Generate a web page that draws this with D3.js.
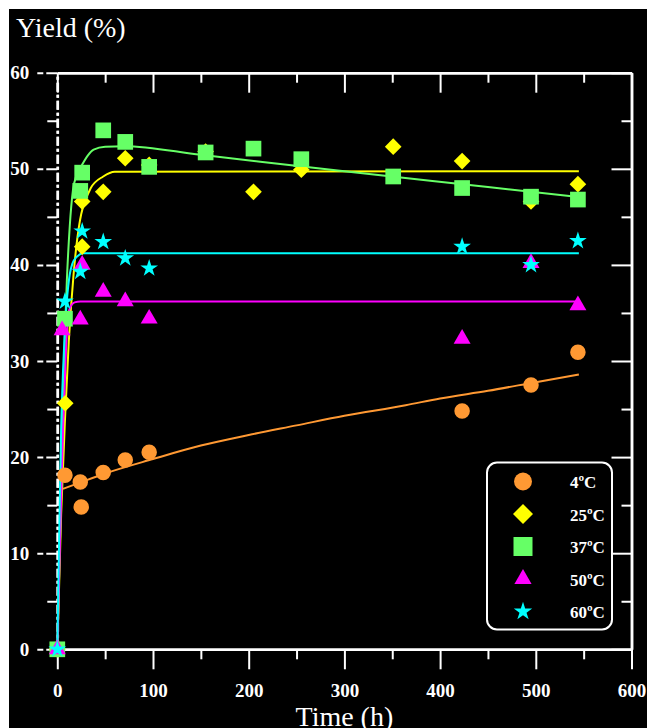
<!DOCTYPE html>
<html>
<head>
<meta charset="utf-8">
<script src="https://cdn.jsdelivr.net/npm/d3@7"></script>
<style>
body { margin: 0; background: #fff; }
svg { display: block; }
</style>
</head>
<body>
<div id="chart"></div>
<script>
// Data

var labels = ["4ºC", "25ºC", "37ºC", "50ºC", "60ºC"];
var colors = ["#ff9933", "#ffff00", "#66ff66", "#ff00ff", "#00ffff"];
var xTicks = [0, 100, 200, 300, 400, 500, 600];
var yTicks = [0, 10, 20, 30, 40, 50, 60];

// measured points
var t4  = [0, 8, 24, 25, 48, 71, 96, 423, 495, 544];
var y4  = [0, 18.1, 17.4, 14.8, 18.4, 19.7, 20.5, 24.8, 27.5, 30.9];
var t25 = [0, 8.3, 26, 26, 48, 71, 96, 155, 205, 255, 351, 423, 495, 544];
var y25 = [0, 25.6, 41.9, 46.6, 47.6, 51.1, 50.4, 51.8, 47.6, 49.9, 52.3, 50.8, 46.6, 48.4];
var t37 = [0, 8, 24, 26, 48, 71, 96, 155, 205, 255, 351, 423, 495, 544];
var y37 = [0, 34.4, 47.7, 49.6, 54.0, 52.8, 50.2, 51.7, 52.1, 51.0, 49.2, 48.0, 47.1, 46.8];
var t50 = [0, 5, 24, 26, 48, 71, 96, 423, 495, 544];
var y50 = [0, 33.2, 34.3, 40.0, 37.2, 36.2, 34.4, 32.3, 40.2, 35.8];
var t60 = [0, 8, 24, 26, 48, 71, 96, 423, 495, 544];
var y60 = [0, 36.2, 39.3, 43.5, 42.4, 40.7, 39.65, 41.9, 40.0, 42.5];

// fitted curves
var ft4  = [6, 25, 50, 100, 150, 200, 250, 300, 364, 400, 450, 500, 545];
var fy4  = [16.7, 17.4, 18.3, 19.8, 21.2, 22.3, 23.3, 24.3, 25.4, 26.1, 26.9, 27.8, 28.6];
var ft25 = [0, 4, 8.3, 12, 17, 20, 25, 29, 35, 48, 60, 545];
var fy25 = [0, 14, 24.5, 32, 39, 42, 45.3, 46.6, 48.0, 49.2, 49.7, 49.75];
var ft37 = [0, 3, 6, 8, 10, 13, 16.4, 20, 25.8, 32, 38, 50, 70, 150, 300, 450, 545];
var fy37 = [0, 12, 25, 33, 38.4, 44, 47.8, 49.3, 50.4, 51.4, 52.0, 52.3, 52.35, 51.45, 49.75, 48.1, 47.05];
var ft50 = [0, 3, 6, 9, 11.5, 14, 18, 24, 545];
var fy50 = [0, 12, 23, 31, 34.8, 35.7, 36.1, 36.2, 36.2];
var ft60 = [0, 2, 4, 6, 8, 10, 13, 16, 20, 27, 545];
var fy60 = [0, 12, 22.8, 29, 33.5, 36.3, 39.0, 40.2, 40.8, 41.2, 41.2];

var points = [[t4, y4], [t25, y25], [t37, y37], [t50, y50], [t60, y60]];
var fits = [[ft4, fy4], [ft25, fy25], [ft37, fy37], [ft50, fy50], [ft60, fy60]];

// Symbols

var symTypes = [d3.symbolCircle, d3.symbolSquare, d3.symbolSquare, d3.symbolTriangle, d3.symbolStar];
var symRot = [0, 45, 0, 0, 0];
var symSize = [189, 139, 246, 125, 97];
var legSize = [254, 200, 361, 128, 105];

// Render

var width = 647;
var height = 728;

var svg = d3.select("#chart").append("svg")
    .attr("width", width)
    .attr("height", height);

svg.append("rect")
    .attr("x", 9).attr("y", 9)
    .attr("width", width - 9).attr("height", height - 9)
    .attr("fill", "#000");

var x = d3.scaleLinear().domain([0, 600]).range([57.3, 631.5]);
var y = d3.scaleLinear().domain([0, 60]).range([649.3, 72.7]);

var serif = "'Liberation Serif', 'Times New Roman', serif";

function styleAxis(g, dashed) {
	g.select(".domain").attr("stroke", "#fff").attr("stroke-width", 2.5)
		.attr("stroke-dasharray", dashed ? "9,3,3,3" : null);
	g.selectAll(".tick line").attr("stroke", "#fff").attr("stroke-width", 2);
	g.selectAll("text").attr("fill", "#fff")
		.style("font-family", serif).style("font-weight", "bold").style("font-size", "19px");
}

var minorX = d3.range(50, 600, 100);
var minorY = d3.range(5, 60, 10);

// bottom
svg.append("g").attr("transform", "translate(0," + y(0) + ")")
	.call(d3.axisBottom(x).tickValues(minorX).tickSize(10).tickFormat("").tickSizeOuter(0))
	.call(function(g) { styleAxis(g, false); });
var xb = svg.append("g").attr("transform", "translate(0," + y(0) + ")")
	.call(d3.axisBottom(x).tickValues(xTicks).tickSize(20).tickPadding(14).tickSizeOuter(0))
	.call(function(g) { styleAxis(g, false); });

// top
svg.append("g").attr("transform", "translate(0," + y(60) + ")")
	.call(d3.axisTop(x).tickValues(minorX).tickSize(-10).tickFormat("").tickSizeOuter(0))
	.call(function(g) { styleAxis(g, false); });
svg.append("g").attr("transform", "translate(0," + y(60) + ")")
	.call(d3.axisTop(x).tickValues(xTicks).tickSize(-20).tickFormat("").tickSizeOuter(0))
	.call(function(g) { styleAxis(g, false); });

// right
svg.append("g").attr("transform", "translate(" + x(600) + ",0)")
	.call(d3.axisRight(y).tickValues(minorY).tickSize(-10).tickFormat("").tickSizeOuter(0))
	.call(function(g) { styleAxis(g, false); });
svg.append("g").attr("transform", "translate(" + x(600) + ",0)")
	.call(d3.axisRight(y).tickValues(yTicks).tickSize(-20).tickFormat("").tickSizeOuter(0))
	.call(function(g) { styleAxis(g, false); });

// left (dashed)
svg.append("g").attr("transform", "translate(" + x(0) + ",0)")
	.call(d3.axisLeft(y).tickValues(minorY).tickSize(10).tickFormat("").tickSizeOuter(0))
	.call(function(g) { styleAxis(g, true); });
var yl = svg.append("g").attr("transform", "translate(" + x(0) + ",0)")
	.call(d3.axisLeft(y).tickValues(yTicks).tickSize(20).tickPadding(8).tickSizeOuter(0))
	.call(function(g) { styleAxis(g, true); });
yl.selectAll(".tick line").attr("stroke-dasharray", "11,3,6");

// Axis titles

svg.append("text")
	.attr("x", 16).attr("y", 37)
	.attr("fill", "#fff")
	.style("font-family", serif).style("font-size", "28px")
	.text("Yield (%)");

svg.append("text")
	.attr("x", (x(0) + x(600)) / 2).attr("y", 726)
	.attr("text-anchor", "middle")
	.attr("fill", "#fff")
	.style("font-family", serif).style("font-size", "28px")
	.text("Time (h)");

// Fitted curves

var line = d3.line()
	.x(function(d) { return x(d[0]); })
	.y(function(d) { return y(d[1]); })
	.curve(d3.curveMonotoneX);

fits.forEach(function(f, i) {
	var pts = f[0].map(function(t, j) { return [t, f[1][j]]; });
	svg.append("path")
		.attr("d", line(pts))
		.attr("fill", "none")
		.attr("stroke", colors[i])
		.attr("stroke-width", 2);
});

// Markers

points.forEach(function(p, i) {
	var sym = d3.symbol().type(symTypes[i]).size(symSize[i]);
	var pts = p[0].map(function(t, j) { return [t, p[1][j]]; });
	svg.append("g").selectAll("path")
		.data(pts)
		.enter().append("path")
		.attr("d", sym)
		.attr("transform", function(d) {
			return "translate(" + x(d[0]) + "," + y(d[1]) + ") rotate(" + symRot[i] + ")";
		})
		.attr("fill", colors[i]);
});

// Legend

var leg = svg.append("g");
leg.append("rect")
	.attr("x", 487).attr("y", 462.5)
	.attr("width", 125).attr("height", 167)
	.attr("rx", 10).attr("ry", 10)
	.attr("fill", "#000")
	.attr("stroke", "#fff").attr("stroke-width", 2);

labels.forEach(function(l, i) {
	var cy = 481.5 + i * 32.5;
	leg.append("path")
		.attr("d", d3.symbol().type(symTypes[i]).size(legSize[i]))
		.attr("transform", "translate(523," + cy + ") rotate(" + symRot[i] + ")")
		.attr("fill", colors[i]);
	leg.append("text")
		.attr("x", 570).attr("y", cy + 6.5)
		.attr("fill", "#fff")
		.style("font-family", serif).style("font-weight", "bold").style("font-size", "17px")
		.text(l);
});
</script>
</body>
</html>
